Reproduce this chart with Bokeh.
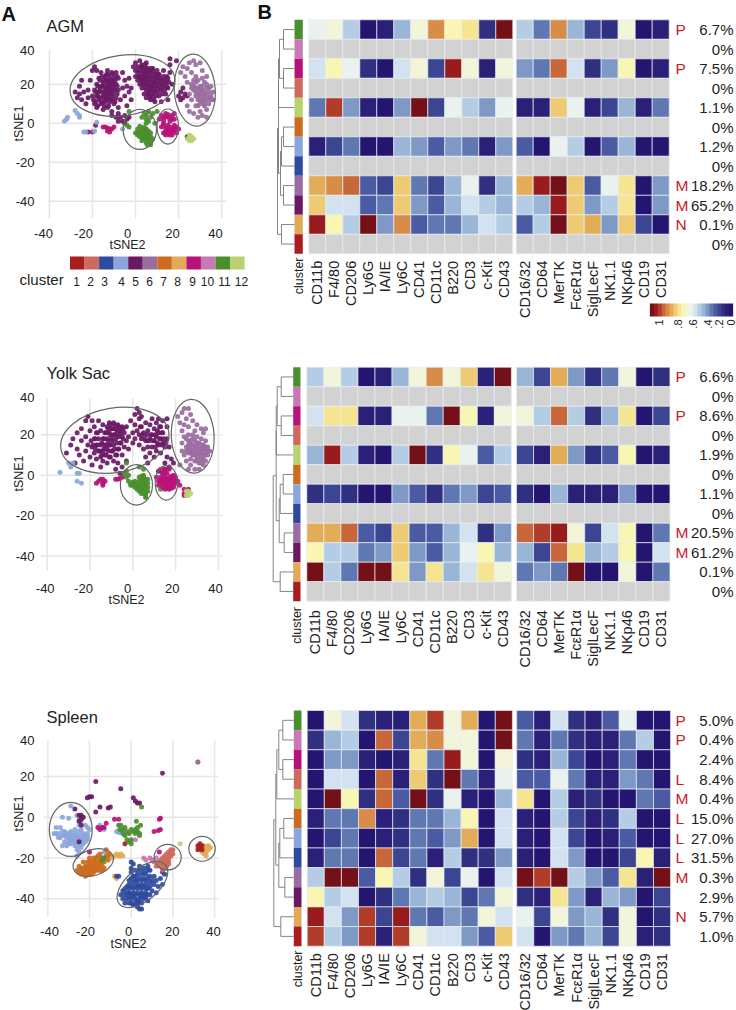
import math
from bokeh.plotting import figure
from bokeh.layouts import column, row
from bokeh.models import Range1d, FixedTicker, LinearColorMapper, ColumnDataSource, LinearAxis
from bokeh.core.properties import value
from bokeh.embed import file_html
from bokeh.resources import INLINE

FONT = "Liberation Sans"
NA = float("nan")

# ---------------- data ----------------
cluster_ids = [1,2,3,4,5,6,7,8,9,10,11,12]
cluster_colors = {1:"#aa1c20",2:"#cc6a5e",3:"#2e4a9e",4:"#8aa6dc",5:"#6a1a64",6:"#9a6ca0",
                  7:"#cc6c1e",8:"#e0aa58",9:"#b8127a",10:"#c878b4",11:"#4a8f2e",12:"#b8d26e"}
row_clusters = [11,10,9,2,12,7,4,3,6,5,8,1]
markers = ["CD11b","F4/80","CD206","Ly6G","IA/IE","Ly6C","CD41","CD11c","B220","CD3","c-Kit","CD43",
           "CD16/32","CD64","MerTK","FcεR1α","SiglLecF","NK1.1","NKp46","CD19","CD31"]
palette = ["#241570","#2a2077","#303080","#3c4592","#4a5ba3","#5f78b2","#7f99c6","#9ab6d6","#b5cde4","#d2e2f0",
           "#eaf2f0","#f2f5da","#f8f6b2","#f6e590","#eecb72","#e3ad58","#d78c48","#c8683a","#b23c2a","#981c1e","#741018"]
legend_ticks = ["1",".8",".6",".4",".2","0"]

blank = [NA]*21
heat_agm = [
 [.5,.55,.42,.02,.05,.37,.57,.77,.58,.62,.1,.97,.42,.26,.78,.38,.18,.13,.53,.03,.07],
 blank,
 [.46,.6,.49,.1,.04,.43,.55,.18,.94,.53,.09,.56,.33,.27,.83,.44,.13,.33,.6,.02,.09],
 blank,
 [.25,.9,.3,.07,.03,.32,.98,.16,.5,.4,.3,.48,.08,.06,.68,.48,.07,.19,.38,.05,.24],
 blank,
 [.07,.15,.24,.02,.03,.38,.3,.2,.3,.28,.05,.29,.22,.02,.5,.41,.03,.2,.37,.02,.03],
 blank,
 [.72,.8,.84,.2,.16,.7,.24,.16,.38,.48,.14,.37,.75,.92,1,.67,.22,.52,.66,.03,.29],
 [.67,.47,.43,.22,.28,.69,.29,.2,.37,.46,.41,.38,.41,.35,.95,.7,.29,.42,.62,.03,.32],
 [.93,.6,.42,.99,.3,.79,.23,.26,.28,.37,.44,.41,.23,.42,.99,.68,.75,.29,.7,.15,.02],
 blank]
heat_yolk = [
 [.4,.55,.41,.03,.07,.38,.53,.79,.54,.69,.09,.99,.37,.15,.74,.3,.11,.25,.53,.03,.1],
 blank,
 [.47,.66,.62,.08,.07,.52,.5,.25,.96,.58,.08,.55,.53,.42,.84,.4,.13,.37,.64,.02,.16],
 blank,
 [.37,.93,.39,.07,.03,.42,.98,.1,.6,.52,.22,.42,.19,.05,.75,.32,.1,.22,.6,.03,.09],
 blank,
 [.12,.15,.12,.02,.03,.33,.2,.1,.28,.32,.16,.2,.1,.03,.37,.07,.07,.09,.3,.02,.03],
 blank,
 [.73,.75,.85,.2,.18,.68,.23,.2,.38,.47,.14,.33,.85,.88,.92,.55,.17,.46,.61,.03,.26],
 [.58,.42,.4,.26,.3,.71,.29,.23,.38,.51,.6,.36,.35,.18,.81,.65,.36,.4,.58,.03,.43],
 [1,.39,.26,1,1,.62,.33,.66,.34,.44,.65,.54,.28,.29,.25,1,.03,.04,.57,.03,.26],
 blank]
heat_spleen = [
 [.02,.53,.45,.1,.05,.06,.74,.9,.55,.75,.02,.99,.21,.07,.45,.12,.05,.2,.52,.02,.02],
 [.1,.34,.4,.03,.85,.19,.72,.8,.55,.53,.03,.96,.28,.06,.24,.14,.05,.05,.26,.42,.02],
 [.03,.33,.29,.06,.04,.05,.65,.28,.92,.56,.02,.56,.13,.05,.35,.19,.03,.06,.27,.03,.03],
 [.03,.43,.43,.03,.81,.07,.7,.12,.96,.27,.05,.5,.23,.21,.48,.24,.05,.07,.29,.27,.03],
 [.03,.99,.61,.1,.85,.2,1,.1,.51,.05,.03,.36,.63,.03,.39,.05,.14,.02,.04,.24,.22],
 [.05,.27,.28,.79,.08,.12,.25,.24,.35,.6,.02,.46,.05,.03,.42,.19,.08,.12,.4,.03,.03],
 [.04,.19,.26,.03,.08,.12,.24,.23,.31,.75,.02,.46,.05,.03,.43,.16,.03,.05,.2,.03,.03],
 [.06,.24,.27,.02,.82,.17,.25,.08,.39,.1,.13,.3,.05,.03,.44,.3,.03,.04,.18,.61,.09],
 [.39,1,1,.22,.6,.4,.1,.55,.17,.48,.04,.43,1,.9,1,.39,.3,.2,.62,.07,1],
 [.59,.42,.45,.03,.1,.25,.34,.4,.38,.18,.26,.53,.14,.05,.63,.29,.05,.36,.31,.03,.19],
 [.92,.47,.31,.89,.19,.92,.27,.22,.33,.28,.55,.45,.5,.15,.57,.33,.37,.1,.56,.03,.11],
 [.87,.42,.31,.86,.07,.86,.55,.46,.45,.33,.22,.68,.43,.02,.31,.25,.38,.18,.53,.06,.1]]

pct_agm = ["6.7%","0%","7.5%","0%","1.1%","0%","1.2%","0%","18.2%","65.2%","0.1%","0%"]
tag_agm = ["P","","P","","","","","","M","M","N",""]
pct_yolk = ["6.6%","0%","8.6%","0%","1.9%","0%","1.1%","0%","20.5%","61.2%","0.1%","0%"]
tag_yolk = ["P","","P","","","","","","M","M","",""]
pct_spleen = ["5.0%","0.4%","2.4%","8.4%","0.4%","15.0%","27.0%","31.5%","0.3%","2.9%","5.7%","1.0%"]
tag_spleen = ["P","P","","L","M","L","L","L","M","","N",""]

# dendrogram merge heights: (green|pink, magenta|salmon, join, +lime, orange|lblue, +blue, mauve|purple, join, join, gold|red, root)
dendro_agm = [11,11,15,16,11,13,11,14,16,13,17]
dendro_yolk = [12,12,16,17,10,13,9,14,17,13,20]
dendro_spleen = [11,11,15,17,10,14,9,15,18,13,20]

# scatter points (tSNE2, tSNE1)
agm = {
5:[(-28,16),(-27,13),(-26,15),(-26,19),(-25,22),(-25,12),(-24,16),(-23,10),(-22,13),(-22,17),(-21,22),(-20,27),(-19,29),(-18,27),(-20,14),(-19,10),(-19,17),(-18,20),(-18,14),(-18,8),(-17,12),(-17,16),(-17,23),(-16,19),(-16,26),(-16,10),(-15,14),(-15,21),(-15,7),(-14,17),(-14,24),(-14,11),(-13,20),(-13,14),(-13,8),(-13,27),(-12,17),(-12,23),(-12,11),(-11,26),(-11,20),(-11,14),(-11,6),(-10,23),(-10,17),(-10,10),(-9,13),(-9,20),(-9,26),(-8,8),(-8,17),(-8,23),(-7,12),(-6,26),(-5,22),(-6,18),(-5,14),(-4,19),(-3,23),(-4,9),(-3,16),(-2,18),(-2,12),
   (-11,4),(-9,3),(-8,5),(-7,3),(-6,1),(-5,4),(-4,2),(-3,3),(-8,1),(-5,0),
   (-1,29),(0,27),(0,24),(0,31),(1,26),(1,22),(1,29),(2,20),(2,24),(2,27),(2,32),(3,18),(3,22),(3,26),(3,30),(4,15),(4,20),(4,24),(4,28),(5,31),(5,17),(5,22),(5,26),(5,13),(6,19),(6,24),(6,28),(6,15),(7,21),(7,26),(7,12),(7,17),(8,23),(8,28),(8,19),(8,14),(9,25),(9,21),(9,16),(9,11),(10,23),(10,18),(10,27),(11,20),(11,14),(11,25),(12,22),(12,17),(12,11),(13,24),(13,19),(13,27),(14,21),(14,15),(15,23),(15,18),(16,26),(16,30),(17,20),(15,12),
   (20,14),(21,16),(22,13),(23,15),(22,18),(24,14),(21,12),(19,32),(16,33),(-22,-4.5),(-18.5,-1),(24,-7),
   (-19.5,12),(-18.5,16),(-18.5,11),(-17.5,19),(-17.5,14),(-17.5,9),(-16.5,22),(-16.5,17),(-16.5,13),(-15.5,24),(-15.5,19),(-15.5,16),(-15.5,11),(-14.5,22),(-14.5,19),(-14.5,15),(-14.5,13),(-14.5,9),(-13.5,25),(-13.5,22),(-13.5,18),(-13.5,16),(-13.5,12),(-12.5,25),(-12.5,21),(-12.5,19),(-12.5,15),(-12.5,13),(-12.5,9),(-11.5,22),(-11.5,18),(-11.5,16),(-11.5,12),(-10.5,25),(-10.5,21),(-10.5,19),(-10.5,15),(-10.5,12),(-9.5,22),(-9.5,17),(-9.5,11),(-8.5,24),(-8.5,19),(-8.5,15),
   (1.5,24),(2.5,29),(2.5,22),(3.5,28),(3.5,24),(3.5,20),(4.5,30),(4.5,26),(4.5,22),(4.5,18),(5.5,28),(5.5,24),(5.5,20),(5.5,15),(6.5,26),(6.5,22),(6.5,17),(6.5,13),(7.5,28),(7.5,24),(7.5,19),(7.5,15),(8.5,26),(8.5,21),(8.5,17),(8.5,12),(9.5,23),(9.5,19),(9.5,14),(10.5,25),(10.5,21),(10.5,16),(11.5,23),(11.5,18),(12.5,20),(12.5,15),(13.5,22),(13.5,17),(14.5,24),(14.5,19),(15.5,21)],
6:[(21,26),(22,29),(23,24),(24,28),(25,31),(26,26),(27,32),(28,30),(28,24),(30,31),(31,27),(24,21),(26,20),(27,22),(29,22),(30,19),(31,23),(32,21),(33,24),(25,15),(26,12),(27,17),(28,14),(28,9),(29,18),(29,12),(30,15),(30,6),(31,17),(31,11),(32,14),(32,9),(33,18),(33,12),(34,16),(34,10),(35,14),(35,19),(36,12),(27,5),(29,3),(31,4),(33,7),(24,9),(25,6),(36,16),(33,3),(26,18),
   (27,19),(28,18),(28,16),(29,15),(29,14),(30,17),(30,12),(31,13),(31,15),(32,16),(32,12),(33,15),(34,13),(35,12),(34,18),(31,19),(30,10),(29,9),(32,10),(28,21),(33,20)],
11:[(-3,6),(-4,-1),(-3,-2),(3,3),(4,5),(5,2),(5,4),(6,1),(7,3),(6,6),(5,0),(8,5),(10,6),(0,-5),(1,-6),(1,-3),(2,-5),(2,-7),(3,-3),(3,-6),(4,-2),(4,-5),(4,-8),(5,-3),(5,-6),(5,-10),(6,-7),(6,-4),(6,-9),(3,-9),(7,-5),(7,-11),(8,-8),(2,-1.5),(9,0),
   (3,-4),(4,-3.5),(4,-6.5),(5,-4.5),(5,-8),(3,-7.5),(6,-5.5),(2,-6),(1,-4.5),(6,-8),(7,-7),(7,-9),(5.5,-11)],
9:[(11,2),(12,4),(13,3),(13,0),(14,5),(15,3),(16,1),(17,4),(18,2),(18,5),(14,-3),(12,-2),(13,-5),(15,-1),(15,-4),(16,-2),(16,-6),(17,-3),(17,-6),(18,-1),(18,-4),(19,-2),(19,-5),(20,-3),(14,-6),(-15,-2),(-14,-2),(-13,-2.5),(-12,-3),(-13,-4),(-12,-4.5),(-11,-3),(-20,-4.5),(-10,-2),
   (15,-2.5),(16,-3.5),(17,-4.5),(16,-5),(18,-2.5),(15,-5.5),(14,-4.5),(13,-1),(14,3.5),(15,4.5),(16,3),(17,2),(13,1.5)],
4:[(-33,1),(-32,2),(-31.5,3),(-28,6.5),(-27,5),(-26,4),(-26,3),(-24,-4.5),(-23,-4.5),(-18,0.5),(-6,-3),(-19,-4)],
12:[(24,-8),(25,-9),(25,-6),(26,-7),(26,-9),(27,-8),(25,-8)],
}
yolk = {
5:[(-31,11),(-29,15),(-28,18),(-27,6),(-26,21),(-26,13),(-25,10),(-24,17),(-24,23),(-23,7),(-22,12),(-22,19),(-22,27),(-21,15),(-21,29),(-20,9),(-20,22),(-19,14),(-19,27),(-19,5),(-18,18),(-18,11),(-18,24),(-17,8),(-17,15),(-17,21),(-16,12),(-16,18),(-16,27),(-15,4),(-15,9),(-15,15),(-15,22),(-14,7),(-14,12),(-14,18),(-14,25),(-13,10),(-13,15),(-13,21),(-12,6),(-12,13),(-12,18),(-12,24),(-11,9),(-11,15),(-11,21),(-11,26),(-10,12),(-10,18),(-10,23),(-9,7),(-9,15),(-9,20),(-9,26),(-8,10),(-8,18),(-8,23),(-8,3),(-7,13),(-7,20),(-7,25),(-7,6),(-6,16),(-6,22),(-6,1),(-5,10),(-5,19),(-5,24),(-5,4),(-4,14),(-4,21),(-3,17),(-3,7),(-3,24),(-2,13),(-2,19),
   (-1,27),(0,16),(0,21),(1,18),(1,30),(1,25),(2,22),(2,33),(3,15),(3,20),(3,28),(3,31),(4,18),(4,24),(4,29),(5,13),(5,21),(6,17),(6,26),(6,9),(7,22),(7,14),(7,6),(8,18),(8,25),(8,11),(9,20),(9,14),(9,28),(10,9),(10,17),(10,23),(11,12),(11,26),(11,19),(12,15),(12,28),(12,21),(13,18),(13,24),(13,11),(14,16),(14,27),(14,21),(15,14),(15,6),(16,18),(16,24),(16,28),(16,9),(17,4),(17,14),(18,8),(19,6),(15,3),(12,2),(14,1),
   (-15.5,12),(-14.5,10),(-14.5,16),(-13.5,13),(-13.5,18),(-12.5,10),(-12.5,15),(-12.5,21),(-11.5,12),(-11.5,17),(-11.5,23),(-10.5,9),(-10.5,15),(-10.5,20),(-10.5,25),(-9.5,12),(-9.5,17),(-9.5,23),(-8.5,13),(-8.5,20),(-8.5,25),(-7.5,10),(-7.5,16),(-7.5,22),(-6.5,13),(-6.5,19),(-6.5,24),(-5.5,16),(-5.5,21),(-4.5,18),(-4.5,23),(-16.5,15),(-17.5,13),(-18.5,15),(-19.5,17),(-16.5,21),(-17.5,18),
   (9.5,17),(10.5,14),(10.5,20),(11.5,16),(12.5,18),(13.5,15),(13.5,21),(14.5,18),(15.5,16),(11.5,22),(12.5,24),(8.5,20),(7.5,17),(6.5,20),(5.5,18),(4.5,20),(3.5,24)],
6:[(21,29),(22,26),(23,22),(23,31),(24,25),(24,33),(25,28),(26,33),(26,24),(27,30),(28,27),(29,22),(30,25),(32,23),(33,21),(34,23),(23,16),(23,12),(24,19),(24,10),(25,14),(25,18),(25,7),(26,11),(26,15),(26,20),(27,5),(27,8),(27,13),(27,17),(28,10),(28,15),(28,20),(29,7),(29,12),(29,17),(30,9),(30,14),(30,19),(31,6),(31,11),(31,16),(32,8),(32,13),(32,18),(33,10),(33,15),(34,7),(34,12),(34,17),(35,10),(35,14),(36,12),(29,3),(31,3),(26,3),(33,5),(22,5),
   (27,11),(28,12),(28,18),(29,10),(29,14),(30,11),(30,16),(31,9),(31,13),(32,11),(32,15),(33,8),(33,13),(34,10),(34,14),(35,12),(26,13),(26,17),(27,15),(25,12),(30,7),(32,6)],
11:[(-3,6),(-4,1),(-3,2),(-3,-1),(-2,-3),(-1,-4),(-1,-5),(0,-5),(1,-6),(1,-3),(2,-7),(2,-4),(3,-1),(3,-5),(3,-8),(4,-2),(4,-6),(4,-9),(5,0),(5,-3),(5,-7),(6,-2),(6,-5),(6,-10),(6,-11),(7,-4),(7,-8),(5,3),(3,4),(4,-0.5),(-2,0),(13,-7),
   (2,-5.5),(3,-3),(3,-6.5),(4,-4),(4,-7.5),(5,-1),(5,-5),(5,-9),(6,-3.5),(6,-7),(7,-2),(7,-6),(1,-4.5),(0,-3.5),(6,-9)],
9:[(11,-1),(12,-3),(12,-5),(13,3),(13,-1),(13,-4),(14,1),(14,-3),(14,-6),(15,3),(15,-1),(15,-4),(15,-7),(16,1),(16,-2),(16,-5),(17,3),(17,-1),(17,-4),(17,-7),(18,-2),(18,-5),(19,-3),(19,0),(19,-6),(20,-4),(20,-1),(21,-3),(22,-5),(-16,-3),(-15,-2),(-14,-2),(-14,-4),(-13,-3),(-14,-5),(-17,-4),(-8,-2),(-7,-2),(-6,-1.5),(-5,-1),(24,-7),(24,-9),(24,-10),(26,-7),
   (15,-2.5),(16,-3.5),(16,-6.5),(17,-2.5),(17,-5.5),(18,-3.5),(18,-0.5),(18,-6.5),(19,-1.5),(19,-4.5),(14,-1.5),(14,-4.5),(13,-2.5),(20,-2.5),(15,1)],
12:[(25,-8),(26,-8),(26,-10),(25,-10),(27,-9)],
4:[(-34,1.5),(-30,6),(-29,4),(-28,6),(-26,1),(-25,1),(-26,-3),(-24,-4)],
}
spleen = {
4:[(-29,5.5),(-33,0),(-30,-0.5),(-26,1),(-25,-1),(-24,-2),(-25,-4),(-24,-6),(-22,-4),(-23,-8),(-36,-5),(-34,-5),(-35,-8),(-37,-8),(-33,-7),(-32,-9),(-34,-10),(-31,-8),(-30,-10),(-29,-7),(-28,-9),(-28,-12),(-27,-8),(-27,-11),(-26,-9),(-26,-12),(-25,-7),(-25,-10),(-25,-13),(-24,-9),(-24,-12),(-23,-11),(-22,-9),(-22,-12),(-21,-8),(-21,-11),(-32,-12),(-30,-13),(-29,-11),(-31,-14),(-27,-14),(-24,-15),(-20,-6),(-33,-14),(-21,-5),(-26,-16),(-25,-17),(-26,-19),(-14,-5),(-13,-6),(-15,-4),(-7,-7),(-6,-7.5),(-5,-7),(-13,-17),(-27,-6),
   (-33,-9),(-32,-7),(-31,-10),(-30,-8),(-30,-12),(-29,-9),(-29,-13),(-28,-10.5),(-27,-9.5),(-27,-12.5),(-26,-10.5),(-26,-14),(-25,-11.5),(-24,-10.5),(-24,-13.5),(-23,-9.5),(-23,-13),(-22,-10.5),(-21,-9.5),(-35,-10),(-36,-8)],
7:[(-26,-26),(-25,-27),(-25,-24),(-24,-28),(-24,-25),(-23,-22),(-23,-27),(-22,-24),(-22,-29),(-22,-26),(-21,-22),(-21,-26),(-20,-24),(-20,-28),(-20,-20),(-19,-26),(-19,-22),(-18,-24),(-18,-20),(-18,-27),(-17,-22),(-17,-26),(-16,-24),(-16,-19),(-15,-22),(-15,-26),(-15,-18),(-14,-24),(-14,-20),(-13,-22),(-13,-25),(-12,-19),(-12,-16),(-11,-21),(-11,-18),(-10,-19),
   (-24,-26.5),(-23,-25),(-22,-27.5),(-21,-24),(-21,-28),(-20,-26),(-20,-22),(-19,-24),(-19,-28),(-18,-25.5),(-18,-22),(-17,-24),(-17,-20),(-16,-26),(-16,-22),(-15,-24),(-15,-20),(-14,-22),(-14,-26),(-13,-20)],
8:[(-7,-18),(-6,-19),(-5,-19),(-4,-19),(-5,-18),(-8,-19),(-8,-29),(-7,-30),(-9,-20),(34,-15),(35,-14),(35,-16),(36,-15),(36,-17),(37,-14),(37,-16),(35,-18),(38,-15),(36,-19),(34,-17)],
1:[(32,-14),(33,-13),(33,-15),(34,-14),(32,-16),(34,-16),(-3,-13)],
3:[(0,-22),(1,-23),(0,-25),(2,-26),(4,-24),(6,-25),(8,-24),(9,-26),(3,-28),(5,-28),(7,-28),(9,-29),(1,-29),(11,-29),(12,-31),(14,-30),(16,-28),(15,-27),(15,-33),(13,-34),(11,-33),(-1,-31),(1,-32),(3,-31),(5,-31),(7,-31),(9,-32),(-2,-34),(0,-34),(2,-34),(4,-34),(6,-34),(8,-35),(10,-36),(12,-37),(-4,-36),(-3,-38),(-1,-37),(1,-37),(3,-37),(5,-37),(7,-37),(9,-38),(-2,-40),(0,-40),(2,-40),(4,-40),(6,-40),(8,-41),(-3,-42),(-1,-42),(1,-43),(3,-43),(5,-42),(4,-45),(5,-45),(-4,-40),(-5,-38),(3,-44),(-6,-29),(-7,-29),
   (0,-27),(2,-29),(4,-26),(6,-27),(8,-26),(0,-30),(2,-31),(4,-30),(6,-30),(8,-30),(10,-31),(-1,-33),(1,-35),(3,-33),(5,-33),(7,-33),(9,-34),(-3,-35),(-1,-35),(3,-35),(5,-35),(7,-35),(-2,-37),(0,-38),(2,-38),(4,-38),(6,-38),(8,-38),(-1,-39),(1,-39),(3,-41),(5,-39),(7,-39),(0,-42),(2,-42),(4,-42)],
2:[(12,-24),(13,-22),(14,-24),(14,-21),(15,-23),(15,-20),(16,-22),(16,-19),(17,-21),(17,-24),(17,-18),(18,-20),(18,-17),(19,-19),(19,-16),(20,-18),(20,-16),(16,-25),(15,-26),(18,-23),
   (16,-23.5),(15,-21.5),(17,-22.5),(18,-21.5),(18,-18.5),(19,-17.5),(16,-20.5),(14,-22.5)],
10:[(6,-20),(7,-21),(9,-20),(10,-21),(11,-22),(12,-20),(2,-11),(32,27)],
11:[(-6,-4),(-5.5,-6),(-5,-4),(-4,-6),(-4,-8),(-3,-5),(-3,-9),(-2,-7),(-2,-11),(-1,-8),(-1,-12),(0,-11),(0,-13),(0,-6),(1,-7),(2,-6),(2,-8),(3,-7),(4,-9),(4,-8),(3,-5),(4.5,-4),(2.5,-2),(5,5),(-13,-20),(-14,-21)],
9:[(-16,-5),(-15,-6),(-14,-5),(-13,-5),(-12,-3),(-8,-1),(-6,-1),(11,-7),(13,-6.5),(14,-6),(-20,-17),(13.5,-17),(13.5,-1),(14,-0.5)],
5:[(-27,4),(-25,1),(-24,1),(-23,0),(-25,-2),(-24,-1),(-24,-4),(-20,10),(-19,10),(-21,9.5),(-17,17.5),(-5,14),(15,21.5),(-15,5),(-17,2.5),(-11,4.5),(-10,5),(1,9.5),(2,8),(3,7),(4,7),(-25,-12)],
12:[(23.5,-13)],
6:[(32,27)],
}
# ellipses: x, y, width, height, angle
ell_agm = [(-6,19.3,49,31,8),(27.5,17,19,37,4),(2,-3.2,15.5,20.5,0),(15,-1.7,10,18,0)]
ell_yolk = [(-8.4,17.3,51,32,9),(28,19.3,20,36.6,3),(1.7,-4.8,15,20,0),(15.7,-3.8,10.5,17,0)]
ell_spleen = [(-29,-6,20.6,26.5,0),(-18.2,-22.2,20,12.7,18),(5.4,-33,29,15.7,40),(17.5,-19.6,13,12.5,0),(34,-15.5,12.7,12.2,0)]

axis_ticks = [-40,-20,0,20,40]
hgrid_ticks = [-40,-20,0,20]

# ---------------- layout constants (page pixels) ----------------
LW = 255
RW = 481

def scatter_panel(title, data, ells, top, H, ox, oy, sx, sy, vtop, vbot, hl, hr, ylab_y, xlab_px, xlab_y,
                  tsne2_xy, tsne1_xy, title_xy, show_legend=False, size=5.0):
    """ox, oy: page pixel of data (0,0); sx, sy: px per unit."""
    fx = lambda px: (px - ox) / sx
    fy = lambda py: (oy - py) / sy
    p = figure(width=LW, height=H, output_backend="svg", toolbar_location=None, min_border=0,
               x_range=Range1d(fx(0), fx(LW)), y_range=Range1d(fy(top + H), fy(top)),
               x_axis_type=None, y_axis_type=None, outline_line_color=None)
    p.grid.visible = False
    n = len(axis_ticks)
    p.segment(axis_ticks, [fy(vtop)]*n, axis_ticks, [fy(vbot)]*n, line_color="#e6e6e6", line_width=1.5)
    m = len(hgrid_ticks)
    p.segment([fx(hl)]*m, hgrid_ticks, [fx(hr)]*m, hgrid_ticks, line_color="#e6e6e6", line_width=1.5)

    for cid, pts in data.items():
        p.scatter([a for a, _ in pts], [b for _, b in pts], size=size, color=cluster_colors[cid],
                  fill_alpha=0.92, line_color=None)
    p.ellipse([e[0] for e in ells], [e[1] for e in ells], width=[e[2] for e in ells], height=[e[3] for e in ells],
              angle=[e[4] for e in ells], angle_units="deg", fill_color=None, line_color="#666666", line_width=1.2)

    # axes
    ytk = {round(fy(ylab_y), 2): "40", -40: "-40", -20: "-20", 0: "0", 20: "20"}
    ya = LinearAxis(ticker=FixedTicker(ticks=list(ytk.keys())), major_label_overrides=ytk,
                    axis_line_color=None, major_tick_line_color=None, minor_tick_line_color=None,
                    major_label_text_font=FONT, major_label_text_font_size="13px", major_label_text_color="#222222",
                    major_label_standoff=2, fixed_location=fx(42))
    p.add_layout(ya, "left")
    xtk = {round(fx(px), 2): str(t) for px, t in zip(xlab_px, axis_ticks)}
    xa = LinearAxis(ticker=FixedTicker(ticks=list(xtk.keys())), major_label_overrides=xtk,
                    axis_line_color=None, major_tick_line_color=None, minor_tick_line_color=None,
                    major_label_text_font=FONT, major_label_text_font_size="13px", major_label_text_color="#222222",
                    major_label_standoff=0, fixed_location=fy(xlab_y - 7))
    p.add_layout(xa, "below")

    p.text([fx(tsne2_xy[0])], [fy(tsne2_xy[1])], text=["tSNE2"], text_font=value(FONT), text_font_size="12.5px",
           text_align="center", text_baseline="middle", text_color="#222222")
    p.text([fx(tsne1_xy[0])], [fy(tsne1_xy[1])], text=["tSNE1"], text_font=value(FONT), text_font_size="12.5px",
           text_align="center", text_baseline="middle", text_color="#222222", angle=math.pi/2)
    p.text([fx(title_xy[0])], [fy(title_xy[1])], text=[title], text_font=value(FONT), text_font_size="16.5px",
           text_align="left", text_baseline="middle", text_color="#222222")

    if show_legend:
        p.text([fx(1)], [fy(13)], text=["A"], text_font=value(FONT), text_font_size="20px", text_font_style="bold",
               text_align="left", text_baseline="middle", text_color="#111111")
        x0, w = 69.5, 14.55
        xs = [fx(x0 + (i + .5) * w) for i in range(12)]
        p.rect(xs, [fy(262.5)]*12, width=w/sx, height=13/sy,
               fill_color=[cluster_colors[c] for c in cluster_ids], line_color=None)
        p.text([fx(19)], [fy(279)], text=["cluster"], text_font=value(FONT), text_font_size="15px",
               text_align="left", text_baseline="middle", text_color="#222222")
        num_px = [76,90,104,121,135,149,163,177,192,207,224,241]
        p.text([fx(a) for a in num_px], [fy(281)]*12, text=[str(c) for c in cluster_ids], text_font=value(FONT),
               text_font_size="12px", text_align="center", text_baseline="middle", text_color="#222222")
    return p


def heat_panel(matrix, pcts, tags, dendro, top, H, xl, yt, yb, strip, cw, gap, lab_y, letter=None, legend=False):
    rh = (yb - yt) / 12.0
    fx = lambda px: (px - xl) / cw
    fy = lambda py: (py - yt) / rh
    p = figure(width=RW, height=H, output_backend="svg", toolbar_location=None, min_border=0,
               x_range=Range1d(fx(LW), fx(LW + RW)), y_range=Range1d(fy(top + H), fy(top)),
               x_axis_type=None, y_axis_type=None, outline_line_color=None)
    p.grid.visible = False
    centres = [i + .5 if i < 12 else i + .5 + gap for i in range(21)]

    xs, ys, vs = [], [], []
    for r, rowv in enumerate(matrix):
        for c, v in enumerate(rowv):
            xs.append(centres[c]); ys.append(r + .5); vs.append(v)
    mapper = LinearColorMapper(palette=palette, low=0, high=1, nan_color="#d2d2d2")
    src = ColumnDataSource(dict(x=xs, y=ys, v=vs))
    p.rect("x", "y", width=1, height=1, source=src, fill_color={"field": "v", "transform": mapper},
           line_color="#e9ecf2", line_width=0.7)

    # annotation strip
    p.rect([fx((strip[0] + strip[1]) / 2)]*12, [r + .5 for r in range(12)], width=(strip[1] - strip[0]) / cw, height=1,
           fill_color=[cluster_colors[c] for c in row_clusters], line_color=None)
    p.text([fx((strip[0] + strip[1]) / 2)], [fy(lab_y)], text=["cluster"], angle=math.pi/2, text_font=value(FONT),
           text_font_size="12.5px", text_align="right", text_baseline="middle", text_color="#222222")

    # dendrogram
    d = dendro
    dx = lambda h: fx(strip[0] - h)
    x0s, y0s, x1s, y1s = [], [], [], []
    def merge(h, a, b):
        ay, ah = a; by, bh = b
        x0s.extend([dx(h), dx(h), dx(h)]); y0s.extend([ay, by, ay])
        x1s.extend([dx(ah), dx(bh), dx(h)]); y1s.extend([ay, by, by])
        return ((ay + by) / 2, h)
    leaf = [(r + .5, 0) for r in range(12)]
    a = merge(d[0], leaf[0], leaf[1])
    b = merge(d[1], leaf[2], leaf[3])
    c_ = merge(d[2], a, b)
    e = merge(d[3], c_, leaf[4])
    f = merge(d[4], leaf[5], leaf[6])
    g = merge(d[5], f, leaf[7])
    h = merge(d[6], leaf[8], leaf[9])
    i_ = merge(d[7], g, h)
    j = merge(d[8], e, i_)
    k = merge(d[9], leaf[10], leaf[11])
    merge(d[10], j, k)
    p.segment(x0s, y0s, x1s, y1s, line_color="#777777", line_width=0.9)

    # marker axis
    ov = {centres[i]: markers[i] for i in range(21)}
    xa = LinearAxis(ticker=FixedTicker(ticks=centres), major_label_overrides=ov, axis_line_color=None,
                    major_tick_line_color=None, minor_tick_line_color=None, major_label_text_font=FONT,
                    major_label_text_font_size="14.5px", major_label_text_color="#222222",
                    major_label_orientation=math.pi/2, major_label_standoff=max(0, int(round(lab_y - yb)) - 3),
                    fixed_location=12)
    p.add_layout(xa, "below")

    # percent labels and tags
    p.text([fx(733)]*12, [r + .5 for r in range(12)], text=pcts, text_font=value(FONT), text_font_size="15px",
           text_align="right", text_baseline="middle", text_color="#222222")
    p.text([fx(675)]*12, [r + .5 for r in range(12)], text=tags, text_font=value(FONT), text_font_size="15.5px",
           text_align="left", text_baseline="middle", text_color="#c4202a")

    if letter:
        p.text([fx(257)], [fy(11.5)], text=[letter], text_font=value(FONT), text_font_size="20px", text_font_style="bold",
               text_align="left", text_baseline="middle", text_color="#111111")
    if legend:
        n = len(palette)
        bl, br = 649.5, 732.5
        w = (br - bl) / n
        cols = list(reversed(palette))
        p.rect([fx(bl + (i + .5) * w) for i in range(n)], [fy(309.5)]*n, width=(w + .3) / cw, height=13 / rh,
               fill_color=cols, line_color=None)
        tick_px = [658, 677, 692, 707, 718, 730]
        p.text([fx(t) for t in tick_px], [fy(319)]*6, text=legend_ticks, angle=math.pi/2, text_font=value(FONT),
               text_font_size="11px", text_align="right", text_baseline="middle", text_color="#222222")
    return p

s1 = scatter_panel("AGM", agm, ell_agm, 0, 340, 135, 122.7, 2.155, 1.95, 49, 218, 47, 226, 50,
                   [43, 83, 127, 172, 215], 229, (127, 244), (18, 123), (46, 25), show_legend=True)
h1 = heat_panel(heat_agm, pct_agm, tag_agm, dendro_agm, 0, 340, 308.3, 19.3, 253.3, (294, 302.3), 17.0, 0.2, 257,
                letter="B", legend=True)
s2 = scatter_panel("Yolk Sac", yolk, ell_yolk, 340, 330, 132.3, 474.7, 2.14, 2.02, 398, 570, 40, 222, 397,
                   [44.7, 83, 127, 171.7, 215], 584, (126, 599), (18, 473), (46, 372.7))
h2 = heat_panel(heat_yolk, pct_yolk, tag_yolk, dendro_yolk, 340, 330, 306.3, 366.7, 600.7, (292.7, 300), 17.05, 0.3, 606.5)
s3 = scatter_panel("Spleen", spleen, ell_spleen, 670, 340, 130.7, 816.7, 2.084, 2.04, 740, 917, 43, 218, 740,
                   [49, 85, 128, 171.7, 213], 927, (128, 943), (18, 813), (46, 716))
h3 = heat_panel(heat_spleen, pct_spleen, tag_spleen, dendro_spleen, 670, 340, 306.7, 710, 945.7, (293.3, 301), 17.1, 0.25, 950)

page = column(row(s1, h1, spacing=0), row(s2, h2, spacing=0), row(s3, h3, spacing=0), spacing=0)
open("out.html", "w").write(file_html(page, INLINE))
